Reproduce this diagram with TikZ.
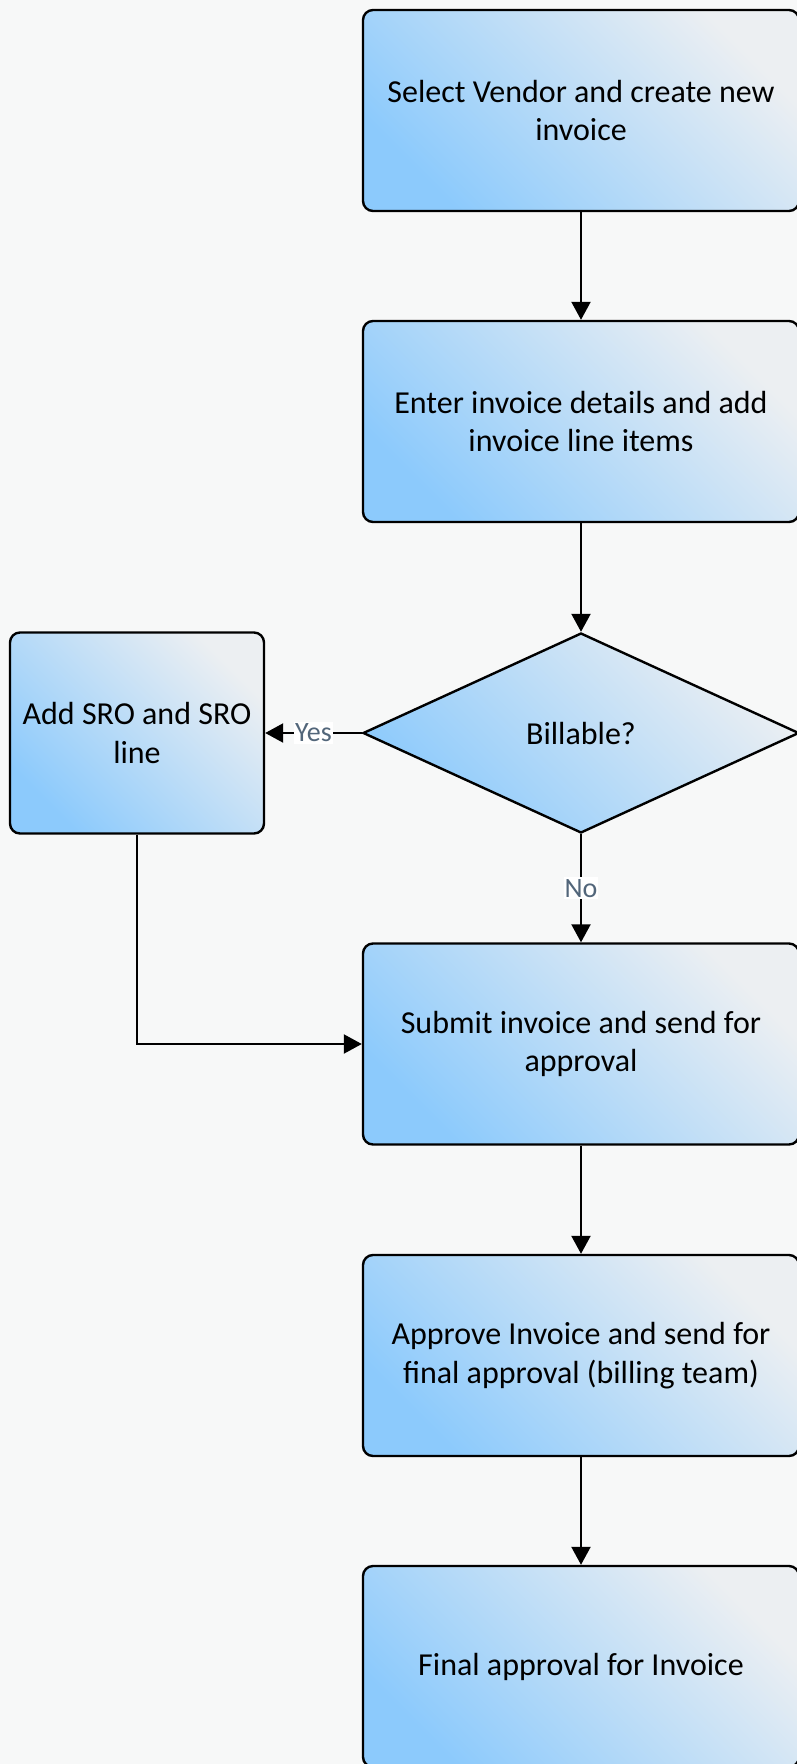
\documentclass[tikz,border=0pt]{standalone}
\usepackage{fontspec}
\setmainfont{Carlito}
\usetikzlibrary{shapes.geometric,arrows.meta}

\definecolor{boxlow}{HTML}{8CCAFC}
\definecolor{boxhigh}{HTML}{ECEFF2}
\definecolor{pagebg}{HTML}{F7F8F8}
\definecolor{labelgray}{HTML}{52667A}

\tikzset{
  procbox/.style={draw, line width=2.4pt, rounded corners=10pt,
    minimum width=436pt, minimum height=201pt, align=center,
    bottom color=boxlow, top color=boxhigh, shading angle=-45,
    font=\fontsize{32}{38.5}\selectfont},
  sidebox/.style={procbox, minimum width=254pt},
  decide/.style={diamond, draw, line width=2.4pt, inner sep=0pt,
    minimum width=436pt, minimum height=200pt, align=center,
    bottom color=boxlow, top color=boxhigh, shading angle=-45,
    font=\fontsize{32}{38.5}\selectfont},
  flow/.style={line width=2.2pt, -{Triangle[length=18pt,width=19pt]}},
  answer/.style={fill=white, text=labelgray, inner xsep=1pt, inner ysep=2pt,
    font=\fontsize{28}{32}\selectfont}
}

\begin{document}
\begin{tikzpicture}[x=1pt,y=-1pt]

%% page
    \fill[pagebg] (0,0) rectangle (797,1764);
    \useasboundingbox (0,0) rectangle (797,1764);

%% steps
    \node[procbox] (vendor) at (581,110.5) {Select Vendor and create new\\invoice};
    \node[procbox] (details) at (581,421.5) {Enter invoice details and add\\invoice line items};
    \node[decide] (billable) at (581,733) {Billable?};
    \node[sidebox] (sro) at (137,733) {Add SRO and SRO\\line};
    \node[procbox] (submit) at (581,1044) {Submit invoice and send for\\approval};
    \node[procbox] (approve) at (581,1355.5) {Approve Invoice and send for\\final approval (billing team)};
    \node[procbox] (final) at (581,1666.5) {Final approval for Invoice};

%% arrows
    \draw[flow] (vendor) to (details);
    \draw[flow] (details) to (billable);
    \draw[flow] (billable.west) to node[answer] (yes) {Yes} (sro.east);
    \draw[flow] (billable.south) to node[answer] (no) {No} (submit.north);
    \draw[flow] (sro.south) |- (submit.west);
    \draw[flow] (submit) to (approve);
    \draw[flow] (approve) to (final);

\end{tikzpicture}
\end{document}
